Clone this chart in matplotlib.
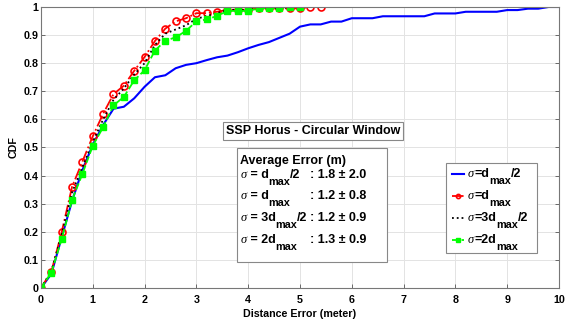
import numpy as np
import matplotlib
matplotlib.use('Agg')
import matplotlib.pyplot as plt
from matplotlib.patches import Rectangle

plt.rcParams['font.family'] = ['Liberation Sans', 'DejaVu Sans']
plt.rcParams['font.weight'] = 'bold'

# distance grid (meter), 0.2 m steps
dist = np.round(np.arange(0, 10.01, 0.2), 1)

cdf_half = [0, 0.05, 0.18, 0.31, 0.42, 0.51, 0.58, 0.638, 0.645, 0.675,
            0.716, 0.75, 0.757, 0.782, 0.794, 0.80, 0.811, 0.821, 0.827, 0.839,
            0.853, 0.865, 0.875, 0.89, 0.905, 0.93, 0.938, 0.938, 0.948, 0.948,
            0.96, 0.96, 0.96, 0.967, 0.967, 0.967, 0.967, 0.967, 0.977, 0.977,
            0.977, 0.983, 0.983, 0.983, 0.983, 0.989, 0.989, 0.994, 0.994, 1.0,
            1.0]
cdf_one = [0, 0.058, 0.199, 0.36, 0.45, 0.54, 0.62, 0.69, 0.72, 0.773,
           0.822, 0.879, 0.923, 0.949, 0.96, 0.978, 0.978, 0.983, 0.99, 0.99,
           0.99, 0.995, 0.995, 0.995, 0.995, 0.995, 1.0, 1.0]
cdf_three_half = [0, 0.06, 0.19, 0.34, 0.43, 0.52, 0.60, 0.67, 0.71, 0.76,
                  0.80, 0.865, 0.905, 0.92, 0.935, 0.958, 0.968, 0.978, 0.99, 0.99,
                  0.99, 0.995, 0.995, 0.995, 1.0, 1.0]
cdf_two = [0, 0.055, 0.174, 0.313, 0.406, 0.506, 0.572, 0.65, 0.68, 0.739,
           0.775, 0.845, 0.88, 0.892, 0.915, 0.949, 0.956, 0.968, 0.986, 0.986,
           0.986, 0.995, 0.995, 0.995, 1.0, 1.0]

# label pieces: sigma, prefix, subscript "max", suffix
lab_prefix = ['d', 'd', '3d', '2d']
lab_suffix = ['/2', '', '/2', '']
stat_vals = [': 1.8 \u00b1 2.0', ': 1.2 \u00b1 0.8', ': 1.2 \u00b1 0.9', ': 1.3 \u00b1 0.9']

FS = 9
SUB_FS = 7.8
SUB_DROP = 5.0

fig = plt.figure(figsize=(5.66, 3.28), dpi=100)
ax = fig.add_axes([0.0724, 0.122, 0.9152, 0.8567])

ax.plot(dist, cdf_half, color='#0000ff', lw=1.5)
ax.plot(dist[:len(cdf_one)], cdf_one, color='#ff0000', lw=1.3, ls='-.',
        marker='o', ms=5, mfc='none', mew=1.2)
ax.plot(dist[:len(cdf_three_half)], cdf_three_half, color='black', lw=1.3, ls=':')
ax.plot(dist[:len(cdf_two)], cdf_two, color='#00ff00', lw=1.3, ls='--',
        marker='s', ms=4.3)

ax.set_xlim(0, 10)
ax.set_ylim(0, 1)
ax.set_xticks(np.arange(0, 11, 1))
ax.set_yticks(np.round(np.arange(0, 1.01, 0.1), 1))
ax.set_xticklabels([str(i) for i in range(11)])
ax.set_yticklabels(['0'] + ['%.1f' % v for v in np.arange(0.1, 1.0, 0.1)] + ['1'])
ax.grid(True, color='#e3e3e3', lw=0.7)
ax.set_axisbelow(True)
ax.tick_params(direction='in', length=3, width=0.6, color='#555555',
               labelsize=7.7, top=False, right=True)
ax.tick_params(axis='x', pad=5)
ax.tick_params(axis='y', pad=2)
for sp in ax.spines.values():
    sp.set_color('#777777')
    sp.set_linewidth(0.8)
ax.set_xlabel('Distance Error (meter)', fontsize=7.7, fontweight='bold', labelpad=3)
ax.set_ylabel('CDF', fontsize=7.7, fontweight='bold', labelpad=3)


def chain_label(first_xy, first_coords, ycoords, yval, va, pieces, z=10):
    """draw text pieces one after another, subscripts lowered"""
    prev = None
    for txt, kind in pieces:
        if not txt:
            continue
        if kind == 'sig':
            kw = dict(family='Liberation Serif', style='italic', weight='normal', size=FS)
        elif kind == 'sub':
            kw = dict(weight='bold', size=SUB_FS)
        else:
            kw = dict(weight='bold', size=FS)
        dy = -SUB_DROP if kind == 'sub' else 0
        if prev is None:
            prev = ax.annotate(txt, xy=first_xy, xycoords=first_coords,
                               xytext=(0, dy), textcoords='offset points',
                               ha='left', va=va, zorder=z, **kw)
        else:
            prev = ax.annotate(txt, xy=(1, yval), xycoords=(prev, ycoords),
                               xytext=(0, dy), textcoords='offset points',
                               ha='left', va=va, zorder=z, **kw)
    return prev


# title box
ax.text(5.25, 0.558, 'SSP Horus - Circular Window', fontsize=FS, fontweight='bold',
        ha='center', va='center',
        bbox=dict(boxstyle='square,pad=0.25', fc='white', ec='#888888', lw=0.8))

# statistics box
ax.add_patch(Rectangle((3.78, 0.093), 2.9, 0.405, fc='white', ec='#888888',
                       lw=0.8, zorder=5))
ax.text(3.85, 0.441, 'Average Error (m)', fontsize=FS, fontweight='bold',
        va='baseline', zorder=6)
rows_y = [0.392, 0.315, 0.238, 0.161]
for yy, pre, suf, vv in zip(rows_y, lab_prefix, lab_suffix, stat_vals):
    chain_label((3.85, yy), 'data', 'data', yy, 'baseline',
                [('\u03c3', 'sig'), (' = ' + pre, 'main'), ('max', 'sub'), (suf, 'main')])
    ax.text(5.19, yy, vv, fontsize=FS, fontweight='bold', va='baseline', zorder=6)

# legend with blank (em-space) labels, real labels drawn on top
handles = ax.get_lines()
leg = ax.legend(handles, ['\u2003' * 5] * 4, loc='upper left',
                bbox_to_anchor=(0.781, 0.446), fontsize=FS,
                handlelength=1.0, handletextpad=0.3, borderpad=0.5,
                labelspacing=0.8, fancybox=False, framealpha=1,
                edgecolor='#888888', borderaxespad=0)
leg.get_frame().set_linewidth(0.8)
for h in leg.legend_handles:
    h.set_markersize(3)
for t, pre, suf in zip(leg.get_texts(), lab_prefix, lab_suffix):
    chain_label((0, 0.32), t, t, 0.32, 'baseline',
                [('\u03c3', 'sig'), ('=' + pre, 'main'), ('max', 'sub'), (suf, 'main')])

fig.savefig('out.png', dpi=100)
